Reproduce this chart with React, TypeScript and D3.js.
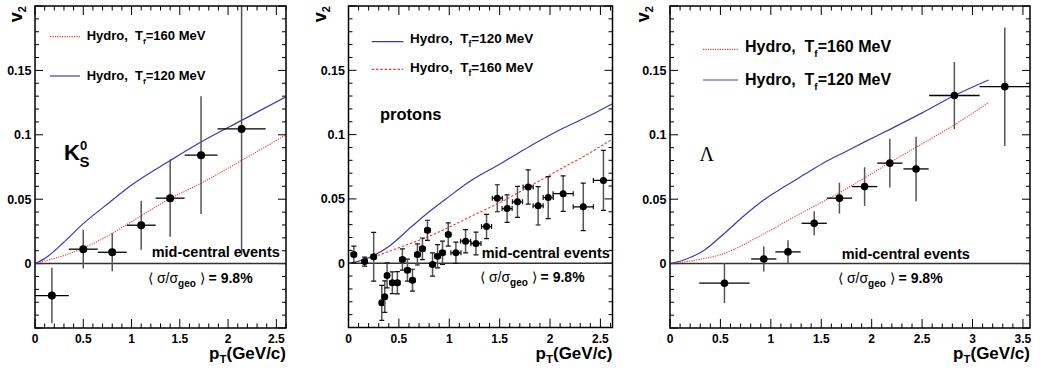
import React from "react";
import * as d3 from "d3";

const W = 1042;
const H = 371;

// shared y axis
const yDomain = [-0.05, 0.2];
const yTickLabels = ["0", "0.05", "0.1", "0.15"];

// ---- K0s panel ----
const kaonPt = [0.175, 0.5, 0.8, 1.1, 1.4, 1.72, 2.14];
const kaonV2 = [-0.0248, 0.0112, 0.0088, 0.0298, 0.0508, 0.0842, 0.1046];
const kaonPtErr = [0.175, 0.15, 0.15, 0.15, 0.15, 0.17, 0.25];
const kaonV2Err = [0.0215, 0.015, 0.0147, 0.019, 0.03, 0.0457, 0.098];

const kaonHydro120Pt = [0, 0.12, 0.29, 0.5, 0.78, 1.0, 1.4, 1.71, 2.15, 2.6];
const kaonHydro120V2 = [0, 0.005, 0.016, 0.031, 0.048, 0.061, 0.08, 0.094, 0.1116, 0.1295];
const kaonHydro160Pt = [0, 0.12, 0.29, 0.5, 0.88, 1.02, 1.4, 1.71, 2.15, 2.6];
const kaonHydro160V2 = [0, 0.0025, 0.006, 0.012, 0.027, 0.0335, 0.0505, 0.062, 0.0805, 0.1];

// ---- protons panel ----
const protonPt = [0.053, 0.16, 0.25, 0.33, 0.36, 0.383, 0.435, 0.485, 0.535, 0.585, 0.635, 0.684, 0.734,
  0.784, 0.834, 0.884, 0.933, 0.99, 1.066, 1.162, 1.265, 1.37, 1.477, 1.574, 1.677, 1.783, 1.882, 1.982,
  2.13, 2.33, 2.53];
const protonV2 = [0.0068, 0.0013, 0.005, -0.0308, -0.026, -0.0095, -0.0152, -0.0152, 0.0029, -0.0054, -0.0132,
  0.0068, 0.0112, 0.0256, -0.001, 0.0054, 0.0081, 0.0223, 0.0081, 0.0171, 0.0153, 0.0285, 0.0505, 0.0425,
  0.0477, 0.0593, 0.0446, 0.051, 0.0541, 0.0438, 0.0644];
const protonPtErr = [0.025, 0.025, 0.025, 0.02, 0.02, 0.02, 0.025, 0.025, 0.025, 0.025, 0.025, 0.025, 0.025,
  0.025, 0.025, 0.025, 0.025, 0.025, 0.05, 0.05, 0.05, 0.05, 0.05, 0.05, 0.05, 0.05, 0.05, 0.05,
  0.1, 0.1, 0.1];
const protonV2Err = [0.0065, 0.0035, 0.019, 0.0136, 0.0123, 0.0097, 0.0085, 0.0087, 0.0083, 0.0085, 0.0085,
  0.0082, 0.0084, 0.0078, 0.009, 0.009, 0.009, 0.009, 0.0083, 0.009, 0.0088, 0.0094, 0.0105, 0.0107,
  0.012, 0.0133, 0.0149, 0.0163, 0.0138, 0.0185, 0.0233];

const protonHydro120Pt = [0, 0.1, 0.25, 0.4, 0.63, 0.8, 0.96, 1.205, 1.5, 1.8, 2.1, 2.4, 2.62];
const protonHydro120V2 = [0, 0.0015, 0.006, 0.013, 0.0287, 0.04, 0.0495, 0.0637, 0.077, 0.091, 0.1038, 0.115, 0.124];
const protonHydro160Pt = [0, 0.1, 0.25, 0.5, 0.8, 1.0, 1.205, 1.5, 1.78, 2.1, 2.4, 2.62];
const protonHydro160V2 = [0, 0.0015, 0.005, 0.012, 0.021, 0.028, 0.036, 0.047, 0.059, 0.073, 0.086, 0.0966];

// ---- Lambda panel ----
const lambdaPt = [0.54, 0.93, 1.17, 1.43, 1.68, 1.93, 2.18, 2.44, 2.82, 3.32];
const lambdaV2 = [-0.0152, 0.0036, 0.0091, 0.0313, 0.0508, 0.0598, 0.078, 0.0735, 0.1305, 0.1374];
const lambdaPtErr = [0.25, 0.125, 0.125, 0.125, 0.125, 0.125, 0.125, 0.125, 0.25, 0.25];
const lambdaV2Err = [0.0155, 0.0097, 0.009, 0.0093, 0.012, 0.015, 0.019, 0.025, 0.026, 0.046];

const lambdaHydro120Pt = [0, 0.144, 0.343, 0.541, 0.74, 0.94, 1.14, 1.34, 1.53, 1.73, 1.93, 2.2, 2.5, 2.82, 3.16];
const lambdaHydro120V2 = [0, 0.003, 0.0106, 0.0236, 0.0375, 0.05, 0.06, 0.0695, 0.0785, 0.0865, 0.0945, 0.105, 0.117, 0.1305, 0.1426];
const lambdaHydro160Pt = [0, 0.276, 0.524, 0.74, 0.856, 1.0, 1.19, 1.43, 1.68, 1.93, 2.18, 2.5, 2.82, 3.16];
const lambdaHydro160V2 = [0, 0.003, 0.0075, 0.015, 0.02, 0.026, 0.0345, 0.0445, 0.055, 0.0665, 0.0785, 0.093, 0.1077, 0.125];

const BLUE = "#3c3ca8";
const RED = "#f23a2e";
const FONT = "'Liberation Sans', Arial, Helvetica, sans-serif";

const zip = (xs, ys) => xs.map((x, i) => [x, ys[i]]);

function Panel(props) {
  const { id, left, right, top, bottom, xMax, xLabels, pts, curves, legend, legendFont, r, caps,
    midX, midY, sigX, sigY, v2X, redDash, children } = props;
  const x = d3.scaleLinear().domain([0, xMax]).range([left, right]);
  const y = d3.scaleLinear().domain(yDomain).range([bottom, top]);
  const line = d3.line().x(d => x(d[0])).y(d => y(d[1])).curve(d3.curveMonotoneX);

  const yMinor = d3.range(-0.05, 0.2001, 0.01).map(v => Math.round(v * 100) / 100);
  const xMinor = d3.range(0, xMax + 0.0001, 0.1).map(v => Math.round(v * 10) / 10);
  const isMajor = (v, step) => Math.abs(v / step - Math.round(v / step)) < 1e-6;

  return (
    <g>
      <defs>
        <clipPath id={`clip-${id}`}>
          <rect x={left} y={top} width={right - left} height={bottom - top} />
        </clipPath>
      </defs>

      {/* ticks */}
      {yMinor.map(v => {
        const len = isMajor(v, 0.05) ? 8 : 4;
        return (
          <g key={`yt${v}`} stroke="#000" strokeWidth={1}>
            <line x1={left} x2={left + len} y1={y(v)} y2={y(v)} />
            <line x1={right} x2={right - len} y1={y(v)} y2={y(v)} />
          </g>
        );
      })}
      {xMinor.map(v => {
        const len = isMajor(v, 0.5) ? 9 : 4.5;
        return (
          <g key={`xt${v}`} stroke="#000" strokeWidth={1}>
            <line x1={x(v)} x2={x(v)} y1={bottom} y2={bottom - len} />
            <line x1={x(v)} x2={x(v)} y1={top} y2={top + len} />
          </g>
        );
      })}

      {/* tick labels */}
      {yTickLabels.map(t => (
        <text key={`yl${t}`} x={left - 3.5} y={y(+t)} dy="0.36em" textAnchor="end"
          fontFamily={FONT} fontWeight="bold" fontSize={12.5}>{t}</text>
      ))}
      {xLabels.map(t => (
        <text key={`xl${t}`} x={x(+t)} y={342.5} textAnchor="middle"
          fontFamily={FONT} fontWeight="bold" fontSize={12}>{t}</text>
      ))}

      {/* zero line */}
      <line x1={left} x2={right} y1={y(0)} y2={y(0)} stroke="#333" strokeWidth={1.5} />

      <g clipPath={`url(#clip-${id})`}>
        {curves.map((c, i) => (
          <path key={i} d={line(zip(c.pt, c.v2))} fill="none"
            stroke={c.kind === "120" ? BLUE : RED}
            strokeWidth={c.kind === "120" ? 1.2 : 1.1}
            strokeDasharray={c.kind === "120" ? null : redDash} />
        ))}

        {pts.pt.map((p, i) => {
          const cx = x(p), cy = y(pts.v2[i]);
          const x0 = x(p - pts.ptErr[i]), x1 = x(p + pts.ptErr[i]);
          const y0 = y(pts.v2[i] - pts.v2Err[i]), y1 = y(pts.v2[i] + pts.v2Err[i]);
          return (
            <g key={`pt${i}`}>
              <line x1={cx} x2={cx} y1={y0} y2={y1} stroke="#555" strokeWidth={1.5} />
              <line x1={x0} x2={x1} y1={cy} y2={cy} stroke="#000" strokeWidth={1.3} />
              {caps && (
                <g stroke="#111" strokeWidth={1.2}>
                  <line x1={cx - 2.5} x2={cx + 2.5} y1={y0} y2={y0} />
                  <line x1={cx - 2.5} x2={cx + 2.5} y1={y1} y2={y1} />
                  <line x1={x0} x2={x0} y1={cy - 2.5} y2={cy + 2.5} />
                  <line x1={x1} x2={x1} y1={cy - 2.5} y2={cy + 2.5} />
                </g>
              )}
              <circle cx={cx} cy={cy} r={r} fill="#000" />
            </g>
          );
        })}
      </g>

      {/* frame */}
      <rect x={left} y={top} width={right - left} height={bottom - top} fill="none" stroke="#000" strokeWidth={1.5} />

      {/* legend */}
      {legend.map((l, i) => (
        <g key={`lg${i}`}>
          <line x1={l.x0} x2={l.x1} y1={l.y} y2={l.y}
            stroke={l.kind === "120" ? BLUE : RED} strokeWidth={1.2}
            strokeDasharray={l.kind === "120" ? null : redDash} />
          <text x={l.tx} y={l.ty} fontFamily={FONT} fontWeight="bold" fontSize={legendFont}>
            Hydro,{"\u00a0\u00a0"}T
            <tspan fontSize={legendFont * 0.62} dy={legendFont * 0.3}>f</tspan>
            <tspan dy={-legendFont * 0.3}>={l.kind === "120" ? "120" : "160"} MeV</tspan>
          </text>
        </g>
      ))}

      {/* annotations */}
      <text x={midX} y={midY} fontFamily={FONT} fontWeight="bold" fontSize={14.5}>mid-central events</text>
      <text x={sigX} y={sigY} fontFamily={FONT} fontSize={14}>
        <tspan>{"\u27e8 \u03c3/\u03c3"}</tspan>
        <tspan fontWeight="bold" fontSize={10} dy={4}>geo</tspan>
        <tspan dy={-4}>{" \u27e9"}</tspan>
        <tspan fontWeight="bold">{" = 9.8%"}</tspan>
      </text>

      {/* axis titles */}
      <text transform={`translate(${v2X},6) rotate(-90)`} textAnchor="end"
        fontFamily={FONT} fontWeight="bold" fontSize={18}>
        v<tspan fontSize={11} dy={4}>2</tspan>
      </text>
      <text x={right} y={359} textAnchor="end" fontFamily={FONT} fontWeight="bold" fontSize={17}>
        p<tspan fontSize={11.5} dy={4}>T</tspan><tspan dy={-4}>(GeV/c)</tspan>
      </text>

      {children}
    </g>
  );
}

export default function App() {
  return (
    <svg width={W} height={H} style={{ position: "absolute", left: 0, top: 0, background: "#fff" }}>
      <rect width={W} height={H} fill="#fff" />
      <Panel id="k0s" left={35} right={286} top={6} bottom={328} xMax={2.6}
        xLabels={["0", "0.5", "1", "1.5", "2", "2.5"]}
        pts={{ pt: kaonPt, v2: kaonV2, ptErr: kaonPtErr, v2Err: kaonV2Err }}
        curves={[
          { pt: kaonHydro160Pt, v2: kaonHydro160V2, kind: "160" },
          { pt: kaonHydro120Pt, v2: kaonHydro120V2, kind: "120" },
        ]}
        legend={[
          { kind: "160", x0: 50, x1: 80, y: 36.7, tx: 86.7, ty: 40 },
          { kind: "120", x0: 50, x1: 80, y: 76, tx: 86.7, ty: 80 },
        ]}
        legendFont={13} r={4} caps={false} redDash="1.2,1.2"
        midX={151.7} midY={256.7} sigX={148} sigY={282.7} v2X={22}>
        <text x={64} y={159.5} fontFamily={FONT} fontWeight="bold" fontSize={22}>K</text>
        <text x={80} y={149.5} fontFamily={FONT} fontWeight="bold" fontSize={13}>0</text>
        <text x={79.5} y={166.5} fontFamily={FONT} fontWeight="bold" fontSize={15}>S</text>
      </Panel>

      <Panel id="prot" left={348.5} right={612.5} top={6} bottom={327.5} xMax={2.62}
        xLabels={["0", "0.5", "1", "1.5", "2", "2.5"]}
        pts={{ pt: protonPt, v2: protonV2, ptErr: protonPtErr, v2Err: protonV2Err }}
        curves={[
          { pt: protonHydro160Pt, v2: protonHydro160V2, kind: "160" },
          { pt: protonHydro120Pt, v2: protonHydro120V2, kind: "120" },
        ]}
        legend={[
          { kind: "120", x0: 371.7, x1: 403.3, y: 41.7, tx: 410, ty: 43.3 },
          { kind: "160", x0: 371.7, x1: 403.3, y: 69.3, tx: 410, ty: 71.7 },
        ]}
        legendFont={13.5} r={3.5} caps={true} redDash="2.5,1.8"
        midX={481.7} midY={258.3} sigX={480} sigY={281.7} v2X={326}>
        <text x={380} y={120} fontFamily={FONT} fontWeight="bold" fontSize={16.5}>protons</text>
      </Panel>

      <Panel id="lam" left={670} right={1030} top={6} bottom={328} xMax={3.57}
        xLabels={["0", "0.5", "1", "1.5", "2", "2.5", "3", "3.5"]}
        pts={{ pt: lambdaPt, v2: lambdaV2, ptErr: lambdaPtErr, v2Err: lambdaV2Err }}
        curves={[
          { pt: lambdaHydro160Pt, v2: lambdaHydro160V2, kind: "160" },
          { pt: lambdaHydro120Pt, v2: lambdaHydro120V2, kind: "120" },
        ]}
        legend={[
          { kind: "160", x0: 703, x1: 738, y: 49.3, tx: 745, ty: 51.7 },
          { kind: "120", x0: 703, x1: 738, y: 80, tx: 745, ty: 85 },
        ]}
        legendFont={16} r={3.8} caps={false} redDash="1.2,1.2"
        midX={841.7} midY={259} sigX={838} sigY={282.7} v2X={649}>
        <text x={699.5} y={160.7} fontFamily="'Liberation Serif', 'Times New Roman', serif" fontSize={20}>{"\u039b"}</text>
      </Panel>
    </svg>
  );
}
